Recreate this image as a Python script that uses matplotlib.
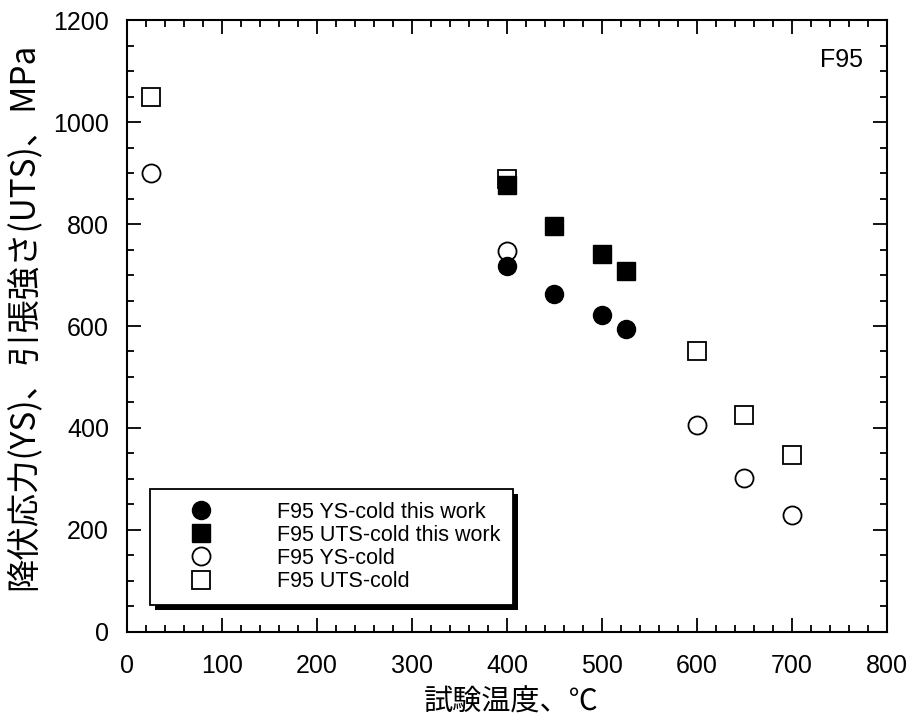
import matplotlib
matplotlib.use("Agg")
import matplotlib.pyplot as plt
from matplotlib.ticker import MultipleLocator
from matplotlib.patches import Rectangle

plt.rcParams['font.family'] = ['Liberation Sans', 'Noto Sans CJK JP', 'DejaVu Sans']
JP = ['Noto Sans CJK JP', 'DejaVu Sans']

# yield / tensile strength of F95 (cold worked) vs. test temperature
ys_work_t = [400, 450, 500, 525]
ys_work = [718, 662, 622, 595]
uts_work_t = [400, 450, 500, 525]
uts_work = [876, 796, 742, 708]
ys_cold_t = [25, 400, 600, 650, 700]
ys_cold = [900, 748, 405, 302, 230]
uts_cold_t = [25, 400, 600, 650, 700]
uts_cold = [1050, 888, 550, 425, 348]

fig = plt.figure(figsize=(9.18, 7.23), dpi=100)
ax = fig.add_axes([0.1383, 0.1259, 0.8279, 0.8464])

ms = 13
ax.plot(ys_work_t, ys_work, 'o', color='black', ms=ms, label='F95 YS-cold this work', zorder=3)
ax.plot(uts_work_t, uts_work, 's', color='black', ms=ms, label='F95 UTS-cold this work', zorder=3)
ax.plot(ys_cold_t, ys_cold, 'o', mfc='white', mec='black', mew=1.3, ms=ms,
        label='F95 YS-cold', zorder=2)
ax.plot(uts_cold_t, uts_cold, 's', mfc='white', mec='black', mew=1.3, ms=ms,
        label='F95 UTS-cold', zorder=2)

ax.set_xlim(0, 800)
ax.set_ylim(0, 1200)
ax.xaxis.set_major_locator(MultipleLocator(100))
ax.xaxis.set_minor_locator(MultipleLocator(20))
ax.yaxis.set_major_locator(MultipleLocator(200))
ax.yaxis.set_minor_locator(MultipleLocator(50))
ax.tick_params(which='both', direction='in', top=True, right=True, width=1.3)
ax.tick_params(which='major', length=10)
ax.tick_params(which='minor', length=5)
ax.tick_params(axis='y', labelsize=18, pad=13)
ax.tick_params(axis='x', labelsize=18, pad=16)
for s in ax.spines.values():
    s.set_linewidth(1.5)

ax.set_xlabel('試験温度、℃', fontsize=21, family=JP)
ax.xaxis.set_label_coords(0.505, -0.091)
ax.set_ylabel('降伏応力(YS)、引張強さ(UTS)、MPa', fontsize=24, family=JP)
ax.yaxis.set_label_coords(-0.113, 0.515)

ax.text(775, 1121, 'F95', fontsize=18, ha='right', va='center')

leg = ax.legend(loc='lower left', bbox_to_anchor=(0.03, 0.044), fontsize=15.5,
                fancybox=False, edgecolor='black', framealpha=1,
                handletextpad=1.7, labelspacing=0.1, borderpad=0.6,
                borderaxespad=0, handlelength=3.6)
leg.get_frame().set_linewidth(1.3)

# solid drop shadow behind the legend box
fig.canvas.draw()
bb = leg.get_window_extent().transformed(ax.transAxes.inverted())
dx = 5 / (ax.bbox.width)
dy = 5 / (ax.bbox.height)
ax.add_patch(Rectangle((bb.x0 + dx, bb.y0 - dy), bb.width, bb.height,
                       transform=ax.transAxes, facecolor='black', edgecolor='none',
                       zorder=4.9, clip_on=False))

fig.savefig('out.png', dpi=100)
